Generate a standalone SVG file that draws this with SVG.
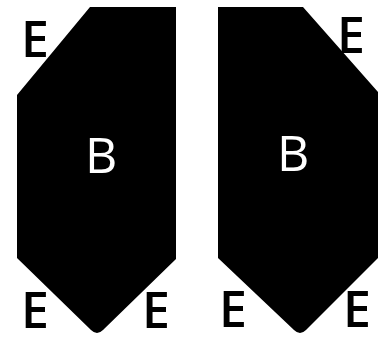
<svg xmlns="http://www.w3.org/2000/svg" width="385" height="337" viewBox="0 0 385 337">
<style>
.shape{fill:#000;stroke:none}
.lbl{font-family:"Open Sans","Liberation Sans",sans-serif;font-size:50px}
.e{fill:#000;font-weight:600}
.b{fill:#fff}
</style>
<rect width="385" height="337" fill="#fff"/>
<g id="left">
<path class="shape" d="M90,7 L176,7 L176,259 L103,330 Q97,336 91,330 L17,258 L17,95 Z"/>
<text class="lbl b" x="85" y="173">B</text>
</g>
<g id="right">
<path class="shape" d="M218,7 L303,7 L378,92 L378,258 L306,330 Q300,336 294,330 L218,258 Z"/>
<text class="lbl b" x="277" y="171">B</text>
</g>
<g id="labels">
<text class="lbl e" x="21" y="57">E</text>
<text class="lbl e" x="21" y="328">E</text>
<text class="lbl e" x="142" y="328">E</text>
<text class="lbl e" x="337" y="53">E</text>
<text class="lbl e" x="219" y="327">E</text>
<text class="lbl e" x="343" y="327">E</text>
</g>
</svg>
